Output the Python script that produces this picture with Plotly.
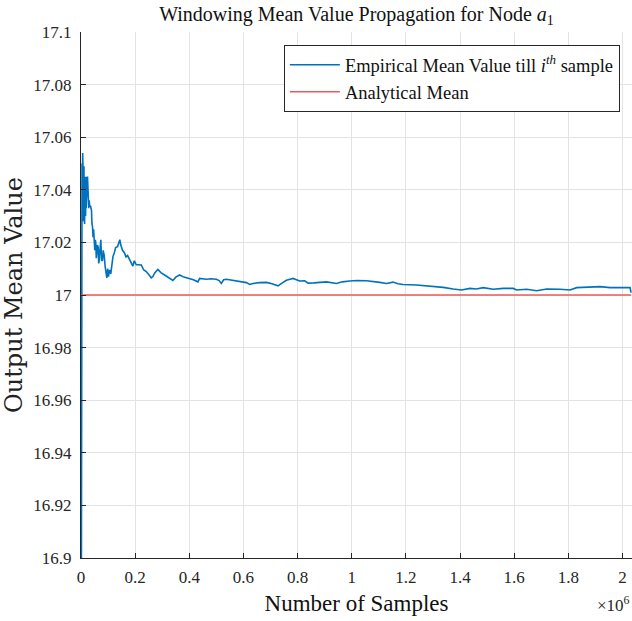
import plotly.graph_objects as go

# ---- data ----
samples = [
    0, 900, 1500, 2200, 3000, 3800, 4600, 5400, 6200, 7000, 7800, 8600, 9400,
    10200, 11000, 11800, 12600, 13400, 14200, 15000, 16000, 17000, 18000, 19000,
    20000, 21400, 22500, 24000, 25500, 27000, 28500, 30000, 32500, 35000, 38800,
    40500, 42500, 44500, 46500, 48800, 51000, 53000, 54700, 56500, 58400, 61000,
    63600, 65500, 67300, 70000, 73200, 76000, 79500, 82000, 85800, 89000, 92000,
    95400, 98500, 101700, 104000, 106500, 110000, 113900, 118000, 122700, 128000,
    135000, 140000, 143400, 147000, 153400, 160800, 166000, 172000, 179300,
    186000, 191500, 197000, 204100, 212000, 222600, 232000, 241000, 250000,
    259500, 265400, 273000, 283900, 295000, 308700, 325000, 339400, 350000,
    364200, 380000, 401100, 415000, 431800, 438100, 462900, 480000, 499800,
    510000, 518300, 527000, 536800, 555300, 573800, 592300, 610700, 623000,
    635100, 660000, 684700, 705000, 727600, 745000, 758600, 772000, 783000,
    795600, 807800, 826300, 838600, 860000, 881800, 906500, 943500, 965000,
    992700, 1020000, 1054400, 1080000, 1103600, 1128300, 1152700, 1170000,
    1189700, 1239200, 1288400, 1337600, 1374600, 1405600, 1436300, 1460000,
    1485500, 1522500, 1559500, 1596400, 1609000, 1646000, 1682900, 1719900,
    1769100, 1806000, 1830800, 1880000, 1917000, 1954000, 1991000, 2015600,
    2027800, 2031500,
]
empirical_mean = [
    16.80, 16.97, 17.03, 17.048, 17.035, 17.05, 17.03, 17.045, 17.054, 17.035,
    17.046, 17.028, 17.044, 17.032, 17.049, 17.03, 17.042, 17.027, 17.045,
    17.033, 17.04, 17.03, 17.045, 17.033, 17.04, 17.036, 17.043, 17.045, 17.035,
    17.04, 17.033, 17.036, 17.0336, 17.034, 17.032, 17.027, 17.026, 17.022,
    17.025, 17.021, 17.017, 17.021, 17.0197, 17.014, 17.016, 17.019, 17.018,
    17.012, 17.0133, 17.017, 17.021, 17.013, 17.0133, 17.017, 17.015, 17.011,
    17.009, 17.0065, 17.01, 17.007, 17.009, 17.0095, 17.008, 17.011, 17.0146,
    17.016, 17.018, 17.0184, 17.0205, 17.021, 17.019, 17.017, 17.016, 17.0145,
    17.015, 17.0133, 17.012, 17.011, 17.013, 17.0115, 17.0115, 17.0114, 17.0095,
    17.0089, 17.0078, 17.0065, 17.007, 17.0085, 17.0097, 17.0085, 17.0076,
    17.0066, 17.0055, 17.0068, 17.0076, 17.0068, 17.0062, 17.0058, 17.005,
    17.0063, 17.006, 17.0062, 17.006, 17.0055, 17.0044, 17.0058, 17.006,
    17.0057, 17.0054, 17.005, 17.0047, 17.004, 17.0044, 17.0047, 17.0048,
    17.0043, 17.0035, 17.0047, 17.0056, 17.006, 17.0063, 17.0058, 17.0053,
    17.0054, 17.0045, 17.0046, 17.0047, 17.005, 17.0044, 17.005, 17.0053,
    17.0055, 17.0054, 17.0052, 17.0048, 17.0044, 17.0049, 17.0043, 17.004,
    17.0038, 17.0034, 17.0029, 17.0023, 17.0019, 17.0025, 17.0023, 17.0028,
    17.0022, 17.0025, 17.0025, 17.0019, 17.0022, 17.0016, 17.0023, 17.0022,
    17.0019, 17.0028, 17.0029, 17.0032, 17.0028, 17.0029, 17.0028, 17.0028,
    17.0009,
]
analytical_x = [0, 2031500]
analytical_mean = [17.0, 17.0]

x_tickvals = [0, 200000, 400000, 600000, 800000, 1000000, 1200000, 1400000,
              1600000, 1800000, 2000000]
x_ticktext = ["0", "0.2", "0.4", "0.6", "0.8", "1", "1.2", "1.4", "1.6", "1.8", "2"]
y_tickvals = [16.9, 16.92, 16.94, 16.96, 16.98, 17.0, 17.02, 17.04, 17.06, 17.08, 17.1]
y_ticktext = ["16.9", "16.92", "16.94", "16.96", "16.98", "17", "17.02", "17.04",
              "17.06", "17.08", "17.1"]

series_names = ["Empirical Mean Value till <i>i<sup>th</sup></i> sample",
                "Analytical Mean"]
title_text = "Windowing Mean Value Propagation for Node <i>a</i><sub>1</sub>"
x_title = "Number of Samples"
y_title = "Output Mean Value"
exp_text = "×10<sup>6</sup>"

FONT = "Liberation Serif, Times New Roman, serif"
AX = "#262626"
GRID = "#E3E3E3"

fig = go.Figure()
fig.add_trace(go.Scatter(x=samples, y=empirical_mean, mode="lines",
                         name=series_names[0],
                         line=dict(color="#0072BD", width=1.6)))
fig.add_trace(go.Scatter(x=analytical_x, y=analytical_mean, mode="lines",
                         name=series_names[1],
                         line=dict(color="#EE5A5A", width=1.6)))

fig.update_layout(
    width=632, height=621,
    margin=dict(l=81, r=0, t=32, b=63),
    paper_bgcolor="white", plot_bgcolor="white",
    font=dict(family=FONT, size=17, color=AX),
    title=dict(text=title_text, x=0.5, xref="paper", xanchor="center",
               y=1 - 14 / 621, yref="container", yanchor="middle",
               font=dict(family=FONT, size=20, color="#111111")),
    showlegend=True,
    legend=dict(x=0.978, y=0.975, xanchor="right", yanchor="top",
                bgcolor="white", bordercolor=AX, borderwidth=1,
                font=dict(family=FONT, size=18.5, color="#111111"),
                tracegroupgap=0, itemwidth=50),
    annotations=[dict(text=exp_text, xref="paper", yref="paper", x=1.0,
                      y=-0.088, xanchor="right", yanchor="middle",
                      showarrow=False,
                      font=dict(family=FONT, size=17, color=AX))],
)
fig.update_xaxes(
    range=[0, 2035000], tickvals=x_tickvals, ticktext=x_ticktext,
    showgrid=True, gridcolor=GRID, gridwidth=1, zeroline=False,
    showline=True, linecolor=AX, linewidth=1, mirror=False,
    ticks="inside", ticklen=5, tickcolor=AX, ticklabelstandoff=4,
    title=dict(text=x_title, standoff=8, font=dict(family=FONT, size=23, color="#111111")),
)
fig.update_yaxes(
    range=[16.9, 17.1], tickvals=y_tickvals, ticktext=y_ticktext,
    showgrid=True, gridcolor=GRID, gridwidth=1, zeroline=False,
    showline=True, linecolor=AX, linewidth=1, mirror=False,
    ticks="inside", ticklen=5, tickcolor=AX, ticklabelstandoff=5,
    title=dict(text=y_title, standoff=5,
               font=dict(family="DejaVu Serif, serif", size=24, color="#222222")),
)

fig.write_html("out.html")
